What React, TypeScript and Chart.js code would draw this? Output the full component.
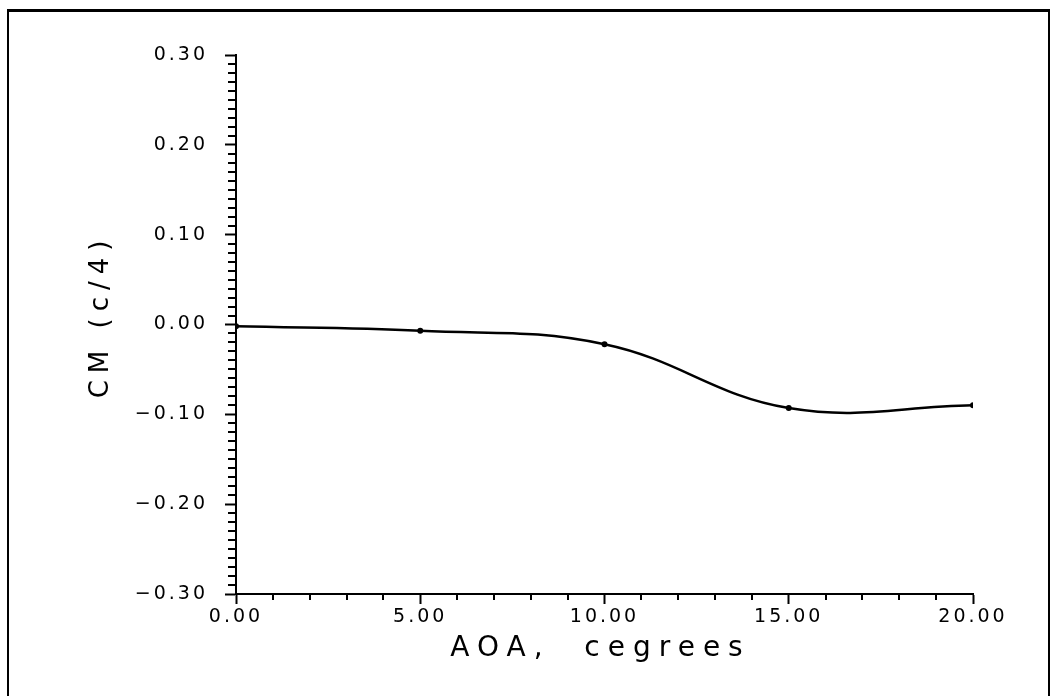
import React, { useEffect, useRef } from "react";
import { Chart, registerables } from "chart.js";

Chart.register(...registerables);

// ---- data ----
const aoaDegrees = [0, 5, 10, 15, 20];
const cmQuarterChord = [-0.002, -0.007, -0.022, -0.093, -0.09];
const xMajorTicks = [0, 5, 10, 15, 20];
const yMajorTicks = [-0.3, -0.2, -0.1, 0, 0.1, 0.2, 0.3];
const xMinorStep = 1;
const yMinorStep = 0.01;
const xTitle = "AOA,  cegrees";
const yTitle = "CM (c/4)";

const FONT = "'DejaVu Sans', 'Noto Sans', sans-serif";

const fmtY = (v: number) =>
  (v < -1e-9 ? "\u2212" : "") + Math.abs(v).toFixed(2);

const letterSpacingPlugin = {
  id: "letterSpacing",
  beforeDraw(chart: any) {
    (chart.ctx as any).letterSpacing = "3px";
  },
};

const extrasPlugin = {
  id: "extras",
  afterDraw(chart: any) {
    const ctx = chart.ctx as CanvasRenderingContext2D;
    const xs = chart.scales.x;
    const ys = chart.scales.y;
    const area = chart.chartArea;
    ctx.save();
    ctx.strokeStyle = "#000";
    ctx.lineWidth = 2;
    // minor ticks on x
    for (let v = xs.min; v <= xs.max + 1e-9; v += xMinorStep) {
      if (xMajorTicks.some((m) => Math.abs(m - v) < 1e-9)) continue;
      const px = Math.round(xs.getPixelForValue(v));
      ctx.beginPath();
      ctx.moveTo(px, xs.top);
      ctx.lineTo(px, xs.top + 6);
      ctx.stroke();
    }
    // minor ticks on y
    const n = Math.round((ys.max - ys.min) / yMinorStep);
    for (let i = 0; i <= n; i++) {
      const v = ys.min + i * yMinorStep;
      if (yMajorTicks.some((m) => Math.abs(m - v) < 1e-9)) continue;
      const py = Math.round(ys.getPixelForValue(v));
      ctx.beginPath();
      ctx.moveTo(ys.right, py);
      ctx.lineTo(ys.right - 8, py);
      ctx.stroke();
    }
    // axis titles
    ctx.fillStyle = "#000";
    (ctx as any).letterSpacing = "8px";
    ctx.font = `28px ${FONT}`;
    ctx.textAlign = "center";
    ctx.textBaseline = "alphabetic";
    ctx.fillText(xTitle, (area.left + area.right) / 2 - 4, 656);

    ctx.translate(101, 316);
    ctx.rotate(-Math.PI / 2);
    (ctx as any).letterSpacing = "7px";
    ctx.font = `26px ${FONT}`;
    ctx.textBaseline = "middle";
    ctx.fillText(yTitle, 0, 0);
    ctx.restore();
  },
};

export default function App() {
  const canvasRef = useRef<HTMLCanvasElement | null>(null);

  useEffect(() => {
    const canvas = canvasRef.current;
    if (!canvas) return;
    const chart = new Chart(canvas, {
      type: "line",
      data: {
        datasets: [
          {
            data: aoaDegrees.map((x, i) => ({ x, y: cmQuarterChord[i] })),
            borderColor: "#000",
            borderWidth: 2.5,
            tension: 0.4,
            pointRadius: 3,
            pointBackgroundColor: "#000",
            pointBorderWidth: 0,
            fill: false,
          },
        ],
      },
      options: {
        animation: false,
        responsive: false,
        devicePixelRatio: 1,
        layout: { padding: { left: 0, top: 55, right: 85, bottom: 0 } },
        plugins: {
          legend: { display: false },
          tooltip: { enabled: false },
        },
        scales: {
          x: {
            type: "linear",
            min: 0,
            max: 20,
            afterBuildTicks: (s: any) => {
              s.ticks = xMajorTicks.map((value) => ({ value }));
            },
            afterFit: (s: any) => {
              s.height = 102;
            },
            ticks: {
              callback: (v: any) => Number(v).toFixed(2),
              font: { family: FONT, size: 19 },
              color: "#000",
              padding: 2,
              maxRotation: 0,
              autoSkip: false,
            },
            grid: {
              drawOnChartArea: false,
              drawTicks: true,
              tickLength: 10,
              tickColor: "#000",
              tickWidth: 2,
            },
            border: { display: true, color: "#000", width: 2 },
          },
          y: {
            type: "linear",
            min: -0.3,
            max: 0.3,
            afterBuildTicks: (s: any) => {
              s.ticks = yMajorTicks.map((value) => ({ value }));
            },
            afterFit: (s: any) => {
              s.width = 236;
            },
            ticks: {
              callback: (v: any) => fmtY(Number(v)),
              font: { family: FONT, size: 19 },
              color: "#000",
              padding: 17,
              autoSkip: false,
            },
            grid: {
              drawOnChartArea: false,
              drawTicks: true,
              tickLength: 11,
              tickColor: "#000",
              tickWidth: 2,
            },
            border: { display: true, color: "#000", width: 2 },
          },
        },
      },
      plugins: [letterSpacingPlugin, extrasPlugin],
    } as any);
    return () => chart.destroy();
  }, []);

  return (
    <div
      style={{
        position: "fixed",
        left: 0,
        top: 0,
        width: 1058,
        height: 696,
        background: "#fff",
        overflow: "hidden",
      }}
    >
      <div
        style={{
          position: "absolute",
          left: 7,
          top: 9,
          width: 1043,
          height: 720,
          borderLeft: "2px solid #000",
          borderRight: "2px solid #000",
          borderTop: "3px solid #000",
          boxSizing: "border-box",
        }}
      />
      <canvas
        ref={canvasRef}
        width={1058}
        height={696}
        style={{ position: "absolute", left: 0, top: 0, width: 1058, height: 696 }}
      />
    </div>
  );
}
